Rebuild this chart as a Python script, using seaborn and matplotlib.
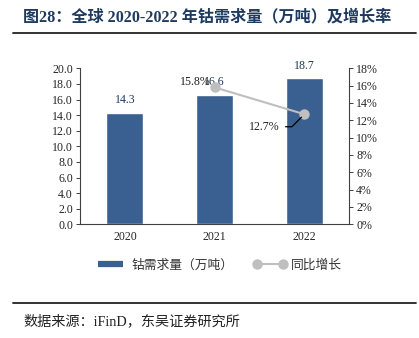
import matplotlib
matplotlib.use("Agg")
import matplotlib.pyplot as plt
from matplotlib.lines import Line2D
import seaborn as sns
import pandas as pd

years = ["2020", "2021", "2022"]
demand = [14.3, 16.6, 18.7]
growth_years = ["2021", "2022"]
growth = [15.8, 12.7]

title_text = "图28：全球 2020-2022 年钴需求量（万吨）及增长率"
bar_label = "钴需求量（万吨）"
line_label = "同比增长"
source_text = "数据来源：iFinD，东吴证券研究所"

sns.set_style("white")
SERIF = ["Liberation Serif", "Noto Sans CJK SC"]
plt.rcParams["font.family"] = SERIF

BAR_C = "#3A5F91"
LINE_C = "#BFBFBF"
LAB_C = "#1F3A5F"
FS = 8.6

fig = plt.figure(figsize=(4.19, 3.38), dpi=100)
ax = fig.add_axes([0.1909, 0.3364, 0.6428, 0.4615])

df = pd.DataFrame({"year": years, "demand": demand})
sns.barplot(data=df, x="year", y="demand", color=BAR_C, saturation=1,
            width=0.41, ax=ax, zorder=2)
ax.set_xlim(-0.5, 2.5)
ax.set_ylim(0, 20)
ax.set_yticks([i * 2 for i in range(11)])
ax.set_yticklabels([f"{i*2:.1f}" for i in range(11)])
ax.set_xlabel("")
ax.set_ylabel("")
for i, v in enumerate(demand):
    ax.annotate(f"{v:.1f}", (i, v), xytext=(0, 5), textcoords="offset points",
                ha="center", va="bottom", fontsize=FS, color=LAB_C)

ax.tick_params(axis="x", which="major", length=0, labelsize=FS, pad=5)
ax.set_xticks([-0.5, 0.5, 1.5, 2.5], minor=True)
ax.tick_params(axis="x", which="minor", length=4, direction="inout", width=0.7, color="#404040")
ax.tick_params(axis="y", length=3, direction="out", width=0.7, labelsize=FS, pad=2, color="#404040", left=True)
for s in ["top", "right"]:
    ax.spines[s].set_visible(False)
for s in ["left", "bottom"]:
    ax.spines[s].set_color("#404040")
    ax.spines[s].set_linewidth(0.8)

ax2 = ax.twinx()
gx = [years.index(y) for y in growth_years]
gdf = pd.DataFrame({"x": gx, "g": growth})
sns.lineplot(data=gdf, x="x", y="g", ax=ax2, color=LINE_C, lw=1.5,
             marker="o", markersize=7.5, markeredgewidth=0, markerfacecolor=LINE_C, zorder=3)
ax2.set_ylim(0, 18)
ax2.set_yticks([i * 2 for i in range(10)])
ax2.set_yticklabels([f"{i*2}%" for i in range(10)])
ax2.set_xlim(-0.5, 2.5)
ax2.set_xlabel("")
ax2.set_ylabel("")
ax2.tick_params(axis="y", length=3, direction="out", width=0.7, labelsize=FS, pad=2, color="#404040", right=True)
for s in ["top", "left", "bottom"]:
    ax2.spines[s].set_visible(False)
ax2.spines["right"].set_color("#404040")
ax2.spines["right"].set_linewidth(0.8)

ax2.annotate(f"{growth[0]:.1f}%", (gx[0], growth[0]), xytext=(-3, 4), textcoords="offset points",
             ha="right", va="center", fontsize=FS, color="#222222")
ax2.annotate(f"{growth[1]:.1f}%", (gx[1], growth[1]), xytext=(-18, -9), textcoords="offset points",
             ha="right", va="center", fontsize=FS, color="#222222",
             arrowprops=dict(arrowstyle="-", color="black", lw=0.9,
                             connectionstyle="angle,angleA=0,angleB=45,rad=0",
                             shrinkA=2, shrinkB=3))

handles = [Line2D([0], [0], color=BAR_C, lw=4.5, solid_capstyle="butt"),
           Line2D([0], [0], color=LINE_C, lw=1.5, marker="o", markersize=7.5, markeredgewidth=0)]
leg = fig.legend(handles, [bar_label, line_label], loc="center", bbox_to_anchor=(0.52, 1 - 265 / 338),
                 ncol=2, frameon=False, handlelength=2.6, numpoints=2, columnspacing=1.6,
                 handletextpad=0.3, prop={"family": ["Noto Sans CJK SC"], "size": 9.2})
for t in leg.get_texts():
    t.set_color("#333333")

fig.text(23 / 419, 1 - 17 / 338, title_text, fontsize=11.6, fontweight="bold", color="#1F3A5F",
         ha="left", va="center", family=["Liberation Serif", "Noto Sans CJK SC"])
fig.add_artist(Line2D([13 / 419, 416 / 419], [1 - 33 / 338] * 2, color="#222222", lw=1.3,
                      transform=fig.transFigure))
fig.add_artist(Line2D([13 / 419, 416 / 419], [1 - 302.5 / 338] * 2, color="#222222", lw=1.3,
                      transform=fig.transFigure))
fig.text(23 / 419, 1 - 321 / 338, source_text, fontsize=10.2, color="#222222",
         ha="left", va="center", family=["Liberation Serif", "Noto Sans CJK SC"])

fig.savefig("out.png", dpi=100)
